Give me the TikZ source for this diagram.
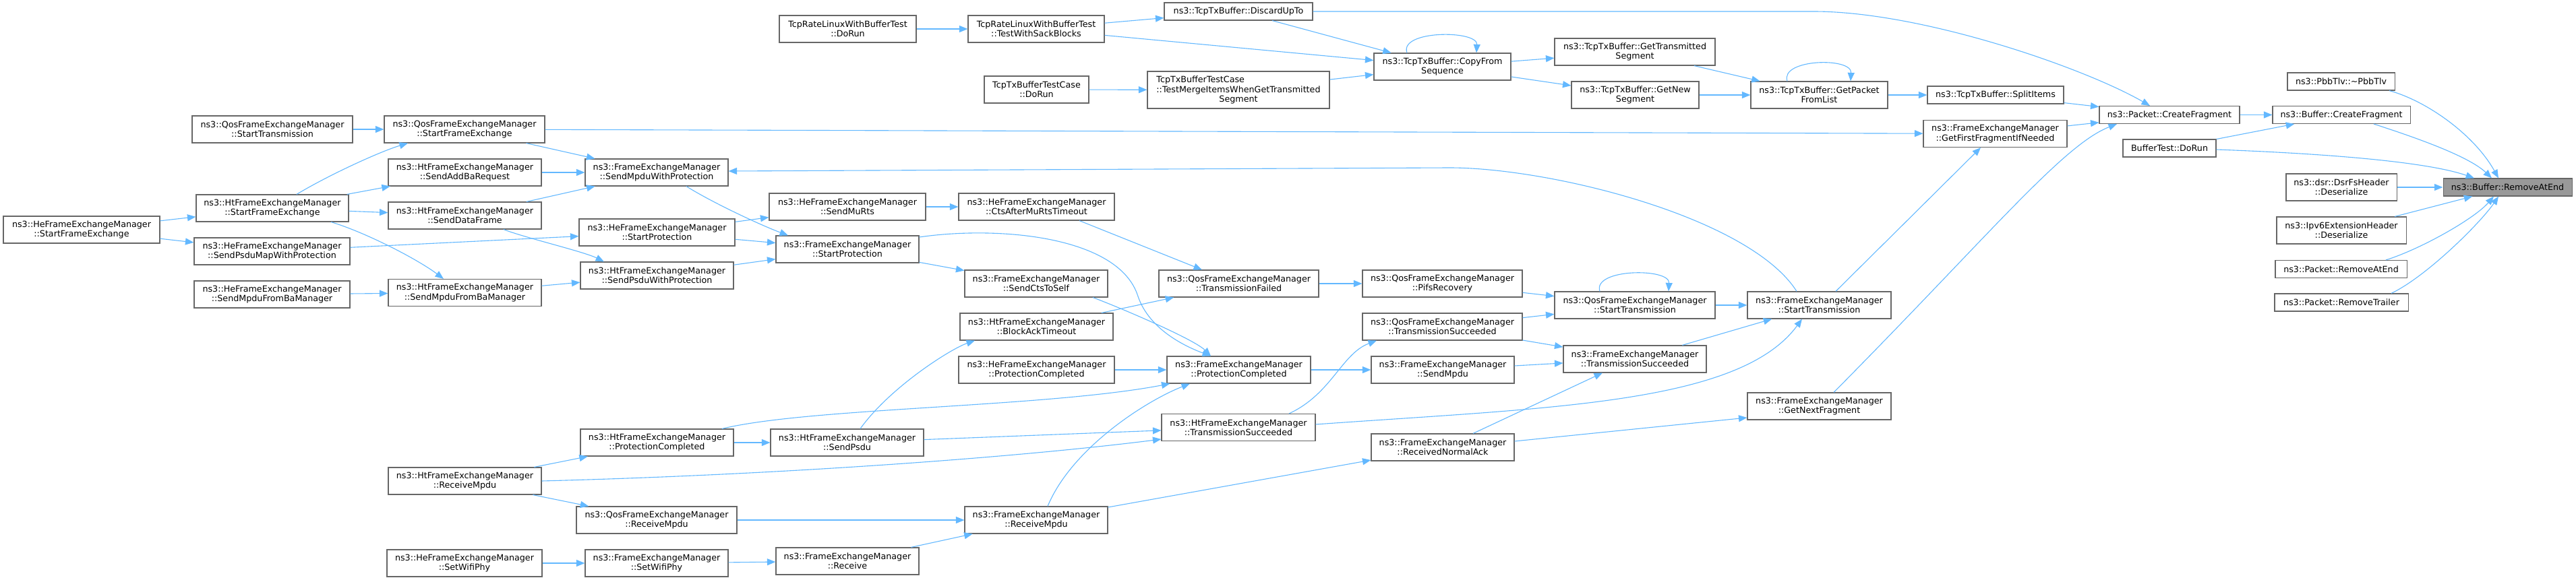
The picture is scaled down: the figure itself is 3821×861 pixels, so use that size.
\documentclass[tikz,border=0pt]{standalone}
\usepackage{fontspec}
\setmainfont{DejaVu Sans}
\usetikzlibrary{arrows.meta}
\definecolor{edgec}{HTML}{63B8FF}
\definecolor{bordc}{HTML}{666666}
\definecolor{rootf}{HTML}{999999}
\newcommand\dxfont{\fontsize{12.7}{14.4}\selectfont}
\tikzset{
  nb/.style={draw=bordc, line width=1.1pt, fill=white, inner sep=0pt, align=center, font=\dxfont, minimum height=40pt},
  nbone/.style={nb, minimum height=26pt},
  eg/.style={draw=edgec, line width=1.1pt, -{Triangle[length=12.5pt,width=10pt]}},
}
\begin{document}
\begin{tikzpicture}[x=1pt,y=-1pt]
\useasboundingbox (0,0) rectangle (3821,861);
% ---------------- nodes ----------------
\node[nb, minimum width=238pt] (QosST1) at (404,192) {ns3::QosFrameExchangeManager\\::StartTransmission};
\node[nb, minimum width=226pt] (HtSFE) at (404,309) {ns3::HtFrameExchangeManager\\::StartFrameExchange};
\node[nb, minimum width=232pt] (HeSFE) at (121,341) {ns3::HeFrameExchangeManager\\::StartFrameExchange};
\node[nb, minimum width=231pt] (HeSPMWP) at (403.5,373) {ns3::HeFrameExchangeManager\\::SendPsduMapWithProtection};
\node[nb, minimum width=231pt] (HeSMFBM) at (403.5,437) {ns3::HeFrameExchangeManager\\::SendMpduFromBaManager};
\node[nb, minimum width=238pt] (QosSFE) at (689,192) {ns3::QosFrameExchangeManager\\::StartFrameExchange};
\node[nb, minimum width=227pt] (HtSABR) at (689.5,256) {ns3::HtFrameExchangeManager\\::SendAddBaRequest};
\node[nb, minimum width=227pt] (HtSDF) at (689.5,320) {ns3::HtFrameExchangeManager\\::SendDataFrame};
\node[nb, minimum width=227pt] (HtSMFBM) at (689.5,434.5) {ns3::HtFrameExchangeManager\\::SendMpduFromBaManager};
\node[nb, minimum width=227pt] (HtRM) at (689.5,714) {ns3::HtFrameExchangeManager\\::ReceiveMpdu};
\node[nb, minimum width=230pt] (HeSWP) at (689,836) {ns3::HeFrameExchangeManager\\::SetWifiPhy};
\node[nb, minimum width=212pt] (FemSMWP) at (974,256) {ns3::FrameExchangeManager\\::SendMpduWithProtection};
\node[nb, minimum width=232pt] (HeSMR) at (1257,307) {ns3::HeFrameExchangeManager\\::SendMuRts};
\node[nb, minimum width=231pt] (HeSP) at (974.5,345) {ns3::HeFrameExchangeManager\\::StartProtection};
\node[nb, minimum width=212pt] (FemSP) at (1257,370) {ns3::FrameExchangeManager\\::StartProtection};
\node[nb, minimum width=227pt] (HtSPWP) at (974.5,409) {ns3::HtFrameExchangeManager\\::SendPsduWithProtection};
\node[nb, minimum width=203pt] (TcpDoRun) at (1257.5,43) {TcpRateLinuxWithBufferTest\\::DoRun};
\node[nb, minimum width=227pt] (HtPC) at (974.5,657) {ns3::HtFrameExchangeManager\\::ProtectionCompleted};
\node[nb, minimum width=227pt] (HtSP) at (1256.5,657) {ns3::HtFrameExchangeManager\\::SendPsdu};
\node[nb, minimum width=238pt] (QosRM) at (974,772) {ns3::QosFrameExchangeManager\\::ReceiveMpdu};
\node[nb, minimum width=212pt] (FemSWP) at (974,836) {ns3::FrameExchangeManager\\::SetWifiPhy};
\node[nb, minimum width=212pt] (FemRecv) at (1257,833) {ns3::FrameExchangeManager\\::Receive};
\node[nb, minimum width=202pt] (TcpTWSB) at (1537,43) {TcpRateLinuxWithBufferTest\\::TestWithSackBlocks};
\node[nbone, minimum width=220pt] (Discard) at (1837,17) {ns3::TcpTxBuffer::DiscardUpTo};
\node[nb, minimum width=203pt] (CopyFrom) at (2139.5,99) {ns3::TcpTxBuffer::CopyFrom\\Sequence};
\node[nb, minimum width=155pt] (TxTCDoRun) at (1537.5,133) {TcpTxBufferTestCase\\::DoRun};
\node[nb, minimum width=270pt, minimum height=55pt] (TestMerge) at (1837,133.5) {\begin{tabular}[b]{@{}l@{}}TcpTxBufferTestCase\\::TestMergeItemsWhenGetTransmitted\end{tabular}\\Segment};
\node[nb, minimum width=231pt] (HeCAMRT) at (1537.5,307) {ns3::HeFrameExchangeManager\\::CtsAfterMuRtsTimeout};
\node[nb, minimum width=212pt] (FemSCTS) at (1537,421) {ns3::FrameExchangeManager\\::SendCtsToSelf};
\node[nb, minimum width=237pt] (QosTF) at (1837.5,421) {ns3::QosFrameExchangeManager\\::TransmissionFailed};
\node[nb, minimum width=237pt] (QosPifs) at (2139.5,421) {ns3::QosFrameExchangeManager\\::PifsRecovery};
\node[nb, minimum width=227pt] (HtBAT) at (1537.5,485) {ns3::HtFrameExchangeManager\\::BlockAckTimeout};
\node[nb, minimum width=231pt] (HePC) at (1537.5,549) {ns3::HeFrameExchangeManager\\::ProtectionCompleted};
\node[nb, minimum width=213pt] (FemPC) at (1837.5,549) {ns3::FrameExchangeManager\\::ProtectionCompleted};
\node[nb, minimum width=237pt] (QosTS) at (2139.5,485) {ns3::QosFrameExchangeManager\\::TransmissionSucceeded};
\node[nb, minimum width=212pt] (FemSM) at (2140,549) {ns3::FrameExchangeManager\\::SendMpdu};
\node[nb, minimum width=228pt] (HtTS) at (1837,634.5) {ns3::HtFrameExchangeManager\\::TransmissionSucceeded};
\node[nb, minimum width=212pt] (FemRNA) at (2140,664) {ns3::FrameExchangeManager\\::ReceivedNormalAck};
\node[nb, minimum width=212pt] (FemRM) at (1537,772) {ns3::FrameExchangeManager\\::ReceiveMpdu};
\node[nb, minimum width=238pt] (GetTrans) at (2425,77) {ns3::TcpTxBuffer::GetTransmitted\\Segment};
\node[nb, minimum width=189pt] (GetNew) at (2425.5,141) {ns3::TcpTxBuffer::GetNew\\Segment};
\node[nb, minimum width=203pt] (GetPacket) at (2698.5,141) {ns3::TcpTxBuffer::GetPacket\\FromList};
\node[nbone, minimum width=202pt] (Split) at (2960,141) {ns3::TcpTxBuffer::SplitItems};
\node[nb, minimum width=213pt] (GetFirst) at (2959.5,198.5) {ns3::FrameExchangeManager\\::GetFirstFragmentIfNeeded};
\node[nb, minimum width=238pt] (QosST2) at (2425,453) {ns3::QosFrameExchangeManager\\::StartTransmission};
\node[nb, minimum width=213pt] (FemST) at (2698.5,453) {ns3::FrameExchangeManager\\::StartTransmission};
\node[nb, minimum width=212pt] (FemTS) at (2425,533) {ns3::FrameExchangeManager\\::TransmissionSucceeded};
\node[nb, minimum width=213pt] (FemGNF) at (2698.5,603) {ns3::FrameExchangeManager\\::GetNextFragment};
\node[nbone, minimum width=208pt] (PktCF) at (3218,170.5) {ns3::Packet::CreateFragment};
\node[nbone, minimum width=204pt] (BufCF) at (3473,170.5) {ns3::Buffer::CreateFragment};
\node[nbone, minimum width=159pt] (Pbb) at (3472.5,121) {ns3::PbbTlv::\textasciitilde PbbTlv};
\node[nbone, minimum width=138pt] (BufTest) at (3218,220) {BufferTest::DoRun};
\node[nbone, minimum width=191pt, fill=rootf] (RAE) at (3719.5,278) {ns3::Buffer::RemoveAtEnd};
\node[nb, minimum width=164pt] (Dsr) at (3473,278) {ns3::dsr::DsrFsHeader\\::Deserialize};
\node[nb, minimum width=192pt] (Ipv6) at (3473,342) {ns3::Ipv6ExtensionHeader\\::Deserialize};
\node[nbone, minimum width=195pt] (PktRAE) at (3472.5,399.5) {ns3::Packet::RemoveAtEnd};
\node[nbone, minimum width=198pt] (PktRT) at (3473,449) {ns3::Packet::RemoveTrailer};
% ---------------- edges ----------------
\draw[eg] (QosST1) -- (QosSFE);
\draw[eg] ([shift={(36,0)}]HtSFE.north) .. controls +(50,-30) and +(-40,12) .. ([shift={(-84,0)}]QosSFE.south);
\draw[eg] (HtSFE) -- (HtSABR);
\draw[eg] (HtSFE) -- (HtSDF);
\draw[eg] ([shift={(87,0)}]HtSFE.south) .. controls +(50,15) and +(-40,-30) .. ([shift={(-31.5,0)}]HtSMFBM.north);
\draw[eg] (HeSFE) -- (HtSFE);
\draw[eg] (HeSFE) -- (HeSPMWP);
\draw[eg] (HeSPMWP) -- (HeSP);
\draw[eg] (HeSMFBM) -- (HtSMFBM);
\draw[eg] (QosSFE) -- (GetFirst);
\draw[eg] (QosSFE) -- (FemSMWP);
\draw[eg] (HtSABR) -- (FemSMWP);
\draw[eg] (HtSDF) -- (FemSMWP);
\draw[eg] ([shift={(-33.5,0)}]FemST.north) .. controls +(-70,-110) and +(150,0) .. (2150,249) -- ([shift={(0,-2)}]FemSMWP.east);
\draw[eg] ([shift={(44,0)}]FemSMWP.south) .. controls +(40,25) and +(-40,-15) .. ([shift={(-88,0)}]FemSP.north);
\draw[eg] ([shift={(57.5,0)}]HtSDF.south) .. controls +(30,12) and +(-30,-15) .. ([shift={(-78.5,0)}]HtSPWP.north);
\draw[eg] (HtSMFBM) -- (HtSPWP);
\draw[eg] (HeSP) -- (HeSMR);
\draw[eg] (HeSP) -- (FemSP);
\draw[eg] (HtSPWP) -- (FemSP);
\draw[eg] (HeSMR) -- (HeCAMRT);
\draw[eg] ([shift={(0,-18)}]FemSP.east) .. controls (1480,335) and (1660,350) .. (1688,440) .. controls (1705,490) and (1760,515) .. ([shift={(-41.5,0)}]FemPC.north);
\draw[eg] (FemSP) -- (FemSCTS);
\draw[eg] (TcpDoRun) -- (TcpTWSB);
\draw[eg] (TcpTWSB) -- (Discard);
\draw[eg] (TcpTWSB) -- (CopyFrom);
\draw[eg] (Discard) -- (CopyFrom);
\draw[eg] ([shift={(-52.5,0)}]CopyFrom.north) .. controls +(-12,-34) and +(2,-34) .. ([shift={(50.5,0)}]CopyFrom.north);
\draw[eg] (TxTCDoRun) -- (TestMerge);
\draw[eg] (TestMerge) -- (CopyFrom);
\draw[eg] (Discard.east) -- (2690,17) .. controls (2850,17) and (3090,100) .. ([shift={(-29,0)}]PktCF.north);
\draw[eg] (CopyFrom) -- (GetTrans);
\draw[eg] (CopyFrom) -- (GetNew);
\draw[eg] (GetTrans) -- (GetPacket);
\draw[eg] (GetNew) -- (GetPacket);
\draw[eg] ([shift={(-47.5,0)}]GetPacket.north) .. controls +(-11,-33) and +(2,-36) .. ([shift={(46.5,0)}]GetPacket.north);
\draw[eg] (GetPacket) -- (Split);
\draw[eg] (Split) -- (PktCF);
\draw[eg] (GetFirst) -- (PktCF);
\draw[eg] ([shift={(21.5,0)}]FemGNF.north) .. controls (2950,350) and (3060,215) .. ([shift={(-78,0)}]PktCF.south);
\draw[eg] ([shift={(24.5,0)}]FemST.north) -- ([shift={(-21.5,0)}]GetFirst.south);
\draw[eg] (PktCF) -- (BufCF);
\draw[eg] (BufTest) -- (BufCF);
\draw[eg] ([shift={(0,2)}]BufTest.east) .. controls (3450,228) and (3600,240) .. ([shift={(-49.5,0)}]RAE.north);
\draw[eg] ([shift={(71.5,0)}]Pbb.south) .. controls (3600,150) and (3670,200) .. ([shift={(-13.5,0)}]RAE.north);
\draw[eg] ([shift={(48,0)}]BufCF.south) .. controls (3570,200) and (3660,230) .. ([shift={(-23.5,0)}]RAE.north);
\draw[eg] (Dsr) -- (RAE);
\draw[eg] (Ipv6) -- (RAE);
\draw[eg] ([shift={(66.5,0)}]PktRAE.north) .. controls (3590,370) and (3670,325) .. ([shift={(-20.5,0)}]RAE.south);
\draw[eg] ([shift={(74,0)}]PktRT.north) .. controls (3600,410) and (3680,330) .. ([shift={(-13.5,0)}]RAE.south);
\draw[eg] ([shift={(84,0)}]FemSCTS.south) .. controls +(40,15) and +(-25,-25) .. ([shift={(-41.5,0)}]FemPC.north);
\draw[eg] (HtBAT) -- (QosTF);
\draw[eg] ([shift={(63.5,0)}]HeCAMRT.south) -- ([shift={(-54.5,0)}]QosTF.north);
\draw[eg] (QosTF) -- (QosPifs);
\draw[eg] (HePC) -- (FemPC);
\draw[eg] (FemPC) -- (FemSM);
\draw[eg] ([shift={(75,0)}]HtTS.north) .. controls (1975,585) and (1990,525) .. ([shift={(-97.5,0)}]QosTS.south);
\draw[eg] ([shift={(0,-4.5)}]HtTS.east) .. controls (2300,605) and (2580,600) .. ([shift={(-25.5,0)}]FemST.south);
\draw[eg] (HtSP) -- (HtTS);
\draw[eg] (HtRM.east) .. controls (1150,705) and (1500,680) .. ([shift={(0,17.5)}]HtTS.west);
\draw[eg] ([shift={(19.5,0)}]HtSP.north) .. controls (1320,575) and (1410,518) .. ([shift={(-91.5,0)}]HtBAT.south);
\draw[eg] (HtPC) -- (HtSP);
\draw[eg] ([shift={(96.5,0)}]HtPC.north) .. controls (1200,605) and (1550,605) .. ([shift={(5,0)}]FemPC.south west);
\draw[eg] (HtRM) -- (HtPC);
\draw[eg] (HtRM) -- (QosRM);
\draw[eg] (QosRM) -- (FemRM);
\draw[eg] (HeSWP) -- (FemSWP);
\draw[eg] (FemSWP) -- (FemRecv);
\draw[eg] (FemRecv) -- (FemRM);
\draw[eg] ([shift={(17,0)}]FemRM.north) .. controls (1590,665) and (1700,595) .. ([shift={(-72.5,0)}]FemPC.south);
\draw[eg] ([shift={(0,-19)}]FemRM.east) -- ([shift={(0,19)}]FemRNA.west);
\draw[eg] (QosTS) -- (QosST2);
\draw[eg] (QosPifs) -- (QosST2);
\draw[eg] ([shift={(-52,0)}]QosST2.north) .. controls +(-11,-34) and +(2,-35) .. ([shift={(50,0)}]QosST2.north);
\draw[eg] (QosST2) -- (FemST);
\draw[eg] (QosTS) -- (FemTS);
\draw[eg] (FemSM) -- (FemTS);
\draw[eg] ([shift={(45,0)}]FemRNA.north) -- ([shift={(-48,0)}]FemTS.south);
\draw[eg] (FemTS) -- (FemST);
\draw[eg] ([shift={(0,-9)}]FemRNA.east) -- ([shift={(0,17)}]FemGNF.west);
\end{tikzpicture}
\end{document}
